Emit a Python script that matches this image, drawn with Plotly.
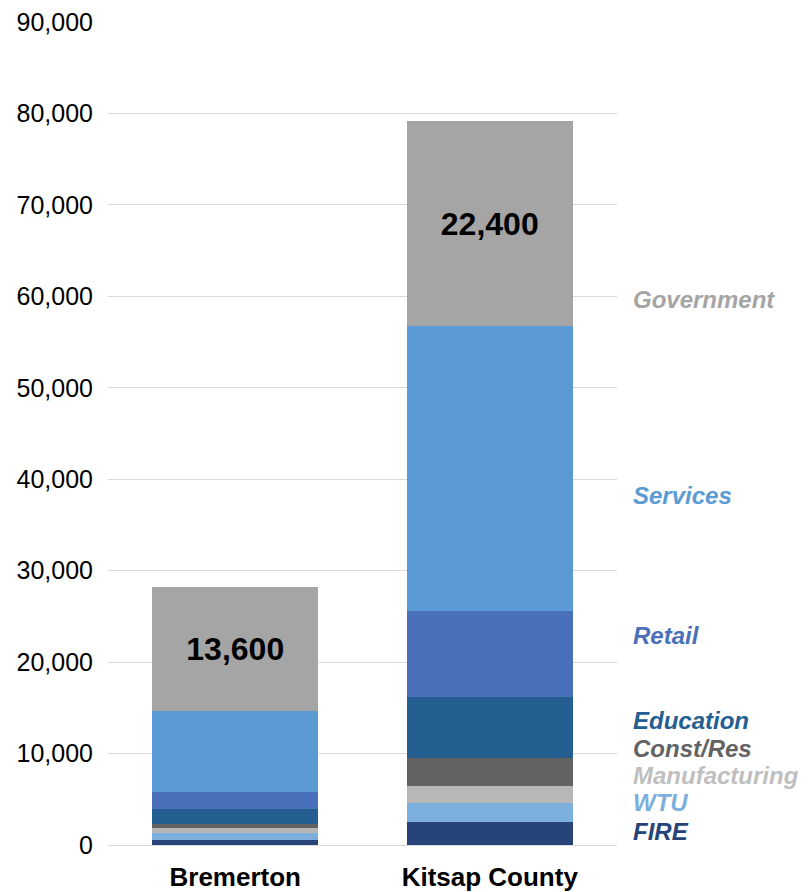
import plotly.graph_objects as go

categories = ["Bremerton", "Kitsap County"]
sectors = ["FIRE", "WTU", "Manufacturing", "Const/Res", "Education", "Retail", "Services", "Government"]
bremerton = [600, 700, 600, 450, 1550, 1850, 8850, 13600]
kitsap = [2500, 2050, 1900, 3100, 6600, 9400, 31200, 22400]
colors = ["#264478", "#7CAFDD", "#B7B7B7", "#636363", "#255E91", "#4A70B9", "#5B9BD5", "#A5A5A5"]
label_colors = ["#264478", "#7CAFDD", "#BFBFBF", "#636363", "#255E91", "#4A70B9", "#5B9BD5", "#A5A5A5"]
label_y = [1500, 4600, 7550, 10600, 13600, 22900, 38200, 59600]

FONT = "Liberation Sans"

fig = go.Figure()
for i, s in enumerate(sectors):
    is_gov = s == "Government"
    fig.add_trace(go.Bar(
        name=s,
        x=categories,
        y=[bremerton[i], kitsap[i]],
        marker=dict(color=colors[i], line=dict(width=0)),
        texttemplate="%{y:,}" if is_gov else None,
        textposition="inside" if is_gov else "none",
        insidetextanchor="middle",
        textfont=dict(family=FONT, size=32, color="black", weight="bold"),
        showlegend=False,
    ))

for i, s in enumerate(sectors):
    fig.add_annotation(
        x=1.028, xref="paper", y=label_y[i], yref="y",
        text=f"<b><i>{s}</i></b>", showarrow=False, xanchor="left", yanchor="middle",
        font=dict(family=FONT, size=24, color=label_colors[i]),
    )

fig.update_layout(
    barmode="stack",
    bargap=0.348,
    width=809, height=892,
    margin=dict(l=108, r=192, t=22, b=47, autoexpand=False),
    plot_bgcolor="white", paper_bgcolor="white",
    font=dict(family=FONT, color="black"),
    uniformtext=dict(mode=False),
)
fig.update_yaxes(
    range=[0, 90000], dtick=10000, tickformat=",",
    gridcolor="#D9D9D9", gridwidth=1,
    zeroline=True, zerolinecolor="#D9D9D9", zerolinewidth=1,
    showline=False, ticks="", automargin=False,
    tickfont=dict(family=FONT, size=25, color="black"),
    ticklabelstandoff=14,
)
fig.update_xaxes(
    showline=False, ticks="", showgrid=False, automargin=False,
    tickfont=dict(family=FONT, size=26, color="black", weight="bold"),
    ticklabelstandoff=14,
)

fig.write_html("out.html")
